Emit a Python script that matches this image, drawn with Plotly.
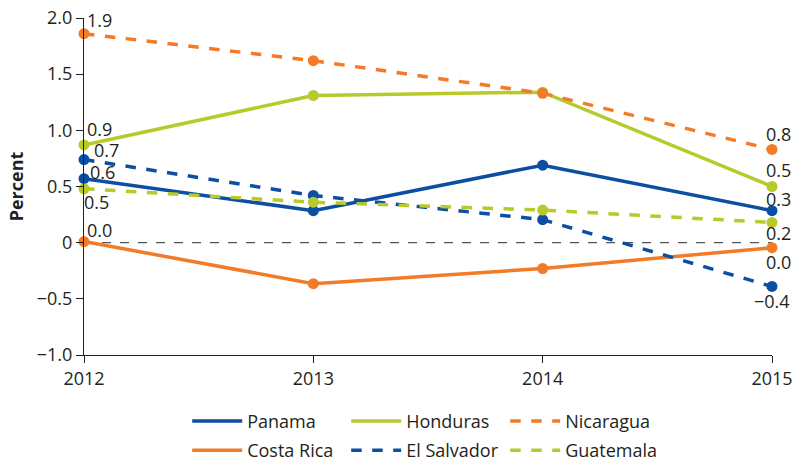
import plotly.graph_objects as go

years = [2012, 2013, 2014, 2015]
panama = [0.57, 0.285, 0.69, 0.285]
honduras = [0.87, 1.31, 1.34, 0.50]
nicaragua = [1.86, 1.62, 1.33, 0.83]
costa_rica = [0.01, -0.365, -0.23, -0.045]
el_salvador = [0.74, 0.42, 0.205, -0.39]
guatemala = [0.48, 0.36, 0.29, 0.18]

y_tickvals = [2.0, 1.5, 1.0, 0.5, 0, -0.5, -1.0]
y_ticktext = ["2.0", "1.5", "1.0", "0.5", "0", "\u22120.5", "\u22121.0"]

BLUE = "#0b4ea2"
GREEN = "#b8c92b"
ORANGE = "#f37a27"
FONT = "Open Sans"
TXT = "#231f20"
FS = 18


def fmt(v):
    s = f"{v:.1f}"
    if s == "-0.0":
        s = "0.0"
    return s.replace("-", "\u2212")


# name, values, color, dash, legend group, (start label dx, dy), (end label dx, dy)
series = [
    ("Panama", panama, BLUE, "solid", "legend", (4, 7), (6, 12)),
    ("Honduras", honduras, GREEN, "solid", "legend", (1, 16), (6, 17)),
    ("Nicaragua", nicaragua, ORANGE, "dash", "legend", (1, 14), (6, 15)),
    ("Costa Rica", costa_rica, ORANGE, "solid", "legend2", (1, 12), (6, -14)),
    ("El Salvador", el_salvador, BLUE, "dash", "legend2", (8, 10), (0, -15)),
    ("Guatemala", guatemala, GREEN, "dash", "legend2", (-2, -13), (6, -11)),
]

fig = go.Figure()
for name, vals, color, dash, lg, s_off, e_off in series:
    fig.add_trace(go.Scatter(
        x=years, y=vals, name=name, mode="lines+markers",
        line=dict(color=color, width=3.5, dash=dash),
        marker=dict(color=color, size=11),
        cliponaxis=False, showlegend=False,
    ))
    fig.add_annotation(x=years[0], y=vals[0], text=fmt(vals[0]), showarrow=False,
                       xanchor="left", yanchor="middle", xshift=s_off[0], yshift=s_off[1],
                       font=dict(family=FONT, size=FS, color=TXT))
    fig.add_annotation(x=years[-1], y=vals[-1], text=fmt(vals[-1]), showarrow=False,
                       xanchor="center", yanchor="middle", xshift=e_off[0], yshift=e_off[1],
                       font=dict(family=FONT, size=FS, color=TXT))

# legend entries (line only)
for name, vals, color, dash, lg, s_off, e_off in series:
    fig.add_trace(go.Scatter(
        x=[None], y=[None], name=name, mode="lines",
        line=dict(color=color, width=3.5, dash=dash),
        showlegend=True, legend=lg,
    ))

fig.add_shape(type="line", xref="paper", x0=0, x1=1, yref="y", y0=0, y1=0,
              line=dict(color="#555555", width=1.2, dash="dash"), layer="below")

leg_common = dict(orientation="h", xanchor="left", yanchor="top",
                  entrywidth=94, entrywidthmode="pixels", itemwidth=50,
                  font=dict(size=FS), traceorder="normal", bgcolor="rgba(0,0,0,0)")

fig.update_layout(
    width=793, height=464,
    margin=dict(l=84, r=21, t=18, b=109, autoexpand=False),
    paper_bgcolor="white", plot_bgcolor="white",
    font=dict(family=FONT, size=FS, color=TXT),
    xaxis=dict(range=[2012, 2015], tickvals=years, ticktext=[str(y) for y in years],
               showgrid=False, zeroline=False, showline=True, linecolor=TXT,
               linewidth=1.2, ticks="outside", ticklen=7, tickcolor=TXT,
               tickfont=dict(size=FS), ticklabeloverflow="allow"),
    yaxis=dict(range=[-1, 2], tickvals=y_tickvals, ticktext=y_ticktext,
               showgrid=False, zeroline=False, showline=True, linecolor=TXT,
               linewidth=1.2, ticks="outside", ticklen=7, tickcolor=TXT,
               tickfont=dict(size=FS), ticklabeloverflow="allow",
               title=dict(text="<b>Percent</b>", font=dict(size=FS), standoff=8)),
    showlegend=True,
    legend=dict(x=0.15, y=-0.142, **leg_common),
    legend2=dict(x=0.15, y=-0.229, **leg_common),
)

fig.write_html("out.html",
               config={"displayModeBar": False},
               post_script="document.body.style.margin='0';document.body.style.overflow='hidden';")
